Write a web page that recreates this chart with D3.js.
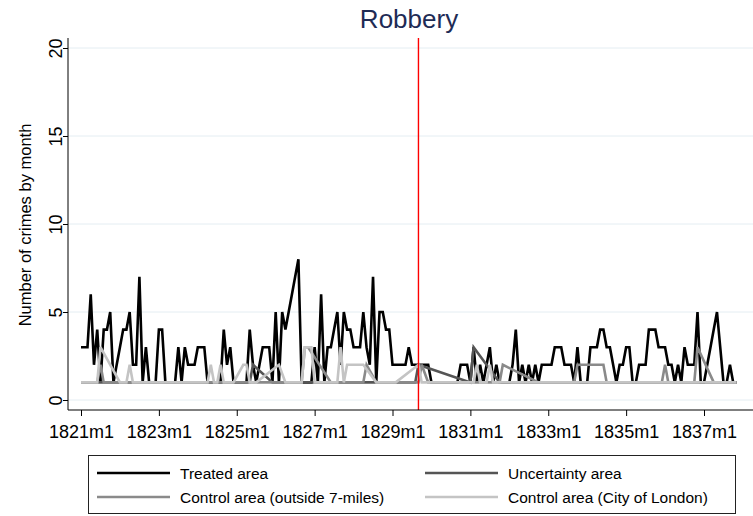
<!DOCTYPE html>
<html>
<head>
<meta charset="utf-8">
<script src="https://cdn.jsdelivr.net/npm/d3@7"></script>
<style>
  body { margin: 0; background: #fff; }
  svg { display: block; font-family: "Liberation Sans", Arial, Helvetica, sans-serif; }
</style>
</head>
<body>
<svg id="chart" width="753" height="516"></svg>
<script>
// Monthly robbery counts, 1821m1 onward (one row per year). null = no record that month.
const treated = [
  3,3,3,6,2,4,1,4,4,5,1,2,
  3,4,4,5,2,2,7,1,3,1,1,1,
  4,4,1,1,1,1,3,1,3,2,2,2,
  3,3,3,1,1,1,1,1,4,2,3,1,
  1,1,1,1,4,2,1,2,3,3,3,1,
  5,1,5,4,5,6,7,8,1,1,1,1,
  3,1,6,1,3,3,4,5,2,5,4,4,
  3,3,3,5,3,2,7,1,5,5,4,4,
  2,2,2,2,2,3,2,2,2,2,2,2,
  1,1,1,1,1,1,1,1,1,2,2,2,
  1,3,1,2,1,2,3,1,2,1,1,1,
  1,2,4,1,2,1,2,1,2,1,2,2,
  2,2,3,3,3,2,2,2,1,3,1,1,
  1,3,3,3,4,4,3,3,2,1,2,2,
  3,3,1,1,2,2,2,4,4,4,3,3,
  3,2,2,1,2,1,3,2,2,2,5,1,
  1,2,3,4,5,3,1,1,2,1,1
];

const uncertainty = [
  1,1,1,1,1,1,1,1,1,1,1,1,
  1,1,1,1,1,1,1,1,1,1,1,1,
  1,1,1,1,1,1,1,1,1,1,1,1,
  1,1,1,1,1,1,1,1,1,1,1,1,
  1,1,1,1,1,2,null,null,null,null,null,1,
  1,1,1,1,1,1,1,1,1,1,1,1,
  1,1,1,1,1,1,1,1,1,1,1,1,
  1,1,1,1,1,1,1,1,1,1,1,1,
  1,1,1,1,1,1,1,1,2,null,null,null,
  null,null,null,null,null,null,null,null,null,null,null,null,
  1,3,null,null,null,null,null,null,null,1,1,1,
  1,1,1,1,1,1,1,1,1,1,1,1,
  1,1,1,1,1,1,1,1,1,1,1,1,
  1,1,1,1,1,1,1,1,1,1,1,1,
  1,1,1,1,1,1,1,1,1,1,1,1,
  1,1,1,1,1,1,1,1,1,1,1,1,
  1,1,1,1,1,1,1,1,1,1,1
];

const controlOutside = [
  1,1,1,1,1,1,2,1,1,1,1,1,
  1,1,1,1,1,1,1,1,1,1,1,1,
  1,1,1,1,1,1,1,1,1,1,1,1,
  1,1,1,1,1,1,1,1,1,1,1,1,
  1,1,1,1,1,1,1,1,1,1,1,1,
  1,1,1,1,1,1,1,1,1,3,3,null,
  null,null,null,null,null,1,1,1,1,1,1,1,
  1,1,1,1,2,null,null,1,1,1,1,1,
  1,1,1,1,1,1,1,1,1,2,null,1,
  1,1,1,1,1,1,1,1,1,1,1,1,
  1,1,1,1,1,1,1,1,1,1,2,null,
  null,null,null,null,null,null,null,null,null,1,1,1,
  1,1,1,1,1,1,1,1,1,2,2,2,
  2,2,2,2,2,2,1,1,1,1,1,1,
  1,1,1,1,1,1,1,1,1,1,1,1,
  2,1,1,1,1,1,1,1,1,1,3,null,
  null,null,null,1,1,1,1,1,1,1,1
];

const controlCity = [
  1,1,1,1,1,1,3,null,null,null,null,null,
  1,1,1,2,1,1,1,1,1,1,1,1,
  1,1,1,1,1,1,1,1,1,1,1,1,
  1,1,1,1,2,1,1,2,1,1,1,1,
  null,null,2,2,1,1,1,null,null,null,null,null,
  null,2,null,1,1,1,1,1,1,3,3,3,
  1,1,1,1,1,1,1,1,3,1,2,2,
  2,2,2,2,null,null,null,1,1,1,1,1,
  1,1,null,null,null,null,null,null,2,1,1,1,
  1,1,1,1,1,1,1,1,1,1,1,1,
  1,1,2,1,1,1,2,1,1,1,1,1,
  1,1,1,1,1,1,1,1,1,1,1,1,
  1,1,1,1,1,1,1,1,1,1,1,1,
  1,1,1,1,1,1,1,1,1,1,1,1,
  1,1,1,1,1,1,1,1,1,1,1,1,
  1,1,1,1,1,1,1,1,1,1,1,1,
  1,1,1,1,1,1,1,1,1,1,1
];

const seriesNames = ["Treated area", "Uncertainty area", "Control area (outside 7-miles)", "Control area (City of London)"];
const seriesColors = ["#000000", "#555555", "#8a8a8a", "#c4c4c4"];
const xTickMonths = [0, 24, 48, 72, 96, 120, 144, 168, 192];
const xTickLabels = ["1821m1", "1823m1", "1825m1", "1827m1", "1829m1", "1831m1", "1833m1", "1835m1", "1837m1"];
const yTickValues = [0, 5, 10, 15, 20];
const policeMonth = 104; // 1829m9

const svg = d3.select("#chart");

const x = d3.scaleLinear().domain([0, 192]).range([81, 704]);
const y = d3.scaleLinear().domain([0, 20]).range([400, 48]);

const plotLeft = 68, plotRight = 753, plotTop = 38, plotBottom = 410;

// grid
svg.append("g").selectAll("line").data(yTickValues).join("line")
  .attr("x1", plotLeft).attr("x2", plotRight)
  .attr("y1", d => y(d)).attr("y2", d => y(d))
  .attr("stroke", "#e4edf2").attr("stroke-width", 1);

// series
const allSeries = [treated, uncertainty, controlOutside, controlCity];
const line = d3.line().x(d => x(d[0])).y(d => y(d[1]));
allSeries.forEach((vals, k) => {
  const pts = vals.map((v, i) => [i, v]).filter(d => d[1] !== null);
  svg.append("path")
    .datum(pts)
    .attr("d", line)
    .attr("fill", "none")
    .attr("stroke", seriesColors[k])
    .attr("stroke-width", 2.6)
    .attr("stroke-linejoin", "miter")
    .attr("stroke-miterlimit", 3);
});

// intervention line
svg.append("line")
  .attr("x1", x(policeMonth)).attr("x2", x(policeMonth))
  .attr("y1", plotTop).attr("y2", plotBottom)
  .attr("stroke", "#ff0000").attr("stroke-width", 1.4);

// axes
const xAxis = d3.axisBottom(x).tickValues(xTickMonths)
  .tickFormat((d, i) => xTickLabels[i]).tickSize(6).tickSizeOuter(0);
const gx = svg.append("g").attr("transform", `translate(0,${plotBottom})`).call(xAxis);
gx.select(".domain").attr("d", `M${plotLeft},0H${plotRight}`).attr("stroke", "#000");
gx.selectAll("text").attr("font-size", 18).attr("dy", "1.05em").attr("fill", "#000")
  .attr("font-family", "'Liberation Sans', Arial, sans-serif");
gx.selectAll(".tick line").attr("stroke", "#000");

const yAxis = d3.axisLeft(y).tickValues(yTickValues).tickSize(5).tickSizeOuter(0).tickFormat(d3.format("d"));
const gy = svg.append("g").attr("transform", `translate(${plotLeft},0)`).call(yAxis);
gy.select(".domain").attr("d", `M0,${plotTop}V${plotBottom}`).attr("stroke", "#000");
gy.selectAll(".tick line").attr("stroke", "#000");
gy.selectAll("text")
  .attr("font-size", 18).attr("fill", "#000")
  .attr("font-family", "'Liberation Sans', Arial, sans-serif")
  .attr("x", null).attr("dy", null)
  .attr("text-anchor", "middle")
  .attr("transform", "translate(-6,0) rotate(-90)");

// y-axis title
svg.append("text")
  .attr("transform", "translate(31,225) rotate(-90)")
  .attr("text-anchor", "middle")
  .attr("font-size", 16.5)
  .attr("fill", "#000")
  .text("Number of crimes by month");

// title
svg.append("text")
  .attr("x", 409).attr("y", 28)
  .attr("text-anchor", "middle")
  .attr("font-size", 26)
  .attr("fill", "#1e2b55")
  .text("Robbery");

// legend
const lg = svg.append("g");
lg.append("rect").attr("x", 88.5).attr("y", 455.5).attr("width", 647).attr("height", 58)
  .attr("fill", "#fff").attr("stroke", "#222").attr("stroke-width", 1);
const legendPos = [[97, 473], [425, 473], [97, 497], [425, 497]];
seriesNames.forEach((name, k) => {
  const [lx, ly] = legendPos[k];
  lg.append("line").attr("x1", lx).attr("x2", lx + 73).attr("y1", ly).attr("y2", ly)
    .attr("stroke", seriesColors[k]).attr("stroke-width", 2.6);
  lg.append("text").attr("x", lx + 83).attr("y", ly + 6)
    .attr("font-size", 15.5).attr("fill", "#000").text(name);
});
</script>
</body>
</html>
